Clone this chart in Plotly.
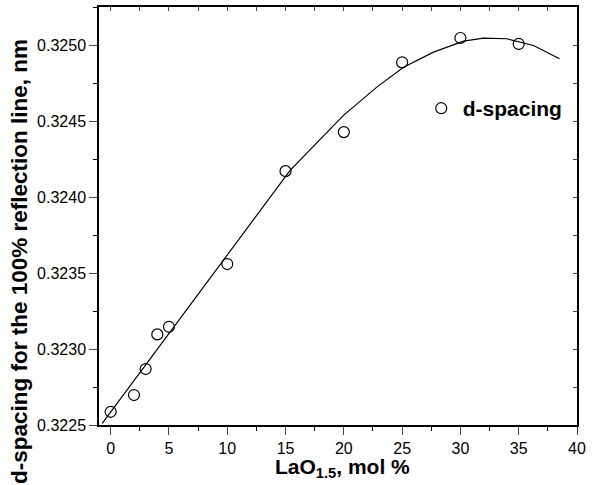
import plotly.graph_objects as go

# measured data points
x_pts = [0, 2, 3, 4, 5, 10, 15, 20, 25, 30, 35]
y_pts = [0.322587, 0.322697, 0.322868, 0.323096, 0.323146, 0.323559,
         0.324170, 0.324427, 0.324886, 0.325046, 0.325007]

# fitted curve (vertices)
x_fit = [-0.72, 9.73, 15.39, 19.97, 22.83, 25.12, 27.69, 30.27, 31.98, 33.99, 36.27, 38.5]
y_fit = [0.322511, 0.323587, 0.324175, 0.324537, 0.324723, 0.324854, 0.324953,
         0.325025, 0.325045, 0.325041, 0.324997, 0.324909]

x_range = [-1, 40]
y_range = [0.3225, 0.32525]
x_ticks = [0, 5, 10, 15, 20, 25, 30, 35, 40]
y_ticks = [0.3225, 0.3230, 0.3235, 0.3240, 0.3245, 0.3250]
y_ticklabels = ["0.3225", "0.3230", "0.3235", "0.3240", "0.3245", "0.3250"]

FONT = "Arial, Liberation Sans, sans-serif"

fig = go.Figure()
fig.add_trace(go.Scatter(x=x_fit, y=y_fit, mode="lines",
                         line=dict(color="black", width=1.2),
                         showlegend=False, hoverinfo="skip"))
fig.add_trace(go.Scatter(x=x_pts, y=y_pts, mode="markers", name="<b>d-spacing</b>",
                         marker=dict(symbol="circle-open", size=11, color="black",
                                     line=dict(width=1.2, color="black"))))
# invisible trace to anchor mirror axes
fig.add_trace(go.Scatter(x=x_pts, y=y_pts, xaxis="x2", yaxis="y2", mode="markers",
                         marker=dict(opacity=0), showlegend=False, hoverinfo="skip"))

fig.update_layout(
    width=598, height=485,
    margin=dict(l=99, r=21, t=7, b=60),
    paper_bgcolor="white", plot_bgcolor="white",
    font=dict(family=FONT, color="black", size=16),
    xaxis=dict(range=x_range, tickvals=x_ticks, ticks="outside", ticklen=8, tickwidth=1.2,
               showline=True, linecolor="black", linewidth=1.5, showgrid=False, zeroline=False,
               tickfont=dict(size=16),
               minor=dict(dtick=2.5, tick0=0, ticks="outside", ticklen=4, tickwidth=1.2,
                          tickcolor="black", showgrid=False)),
    yaxis=dict(range=y_range, tickvals=y_ticks, ticktext=y_ticklabels, ticks="outside",
               ticklen=8, tickwidth=1.2,
               showline=True, linecolor="black", linewidth=1.5, showgrid=False, zeroline=False,
               tickfont=dict(size=16),
               minor=dict(dtick=0.00025, tick0=0.3225, ticks="outside", ticklen=4, tickwidth=1.2,
                          tickcolor="black", showgrid=False)),
    xaxis2=dict(range=x_range, overlaying="x", side="top", anchor="y", dtick=2.5, tick0=0,
                ticks="inside", ticklen=4, tickwidth=1.2, showticklabels=False,
                showline=True, linecolor="black", linewidth=1.5, showgrid=False, zeroline=False),
    yaxis2=dict(range=y_range, overlaying="y", side="right", anchor="x", dtick=0.00025, tick0=0.3225,
                ticks="inside", ticklen=4, tickwidth=1.2, showticklabels=False,
                showline=True, linecolor="black", linewidth=1.5, showgrid=False, zeroline=False),
    legend=dict(x=0.671, y=0.757, xanchor="left", yanchor="middle", itemwidth=33,
                bgcolor="rgba(0,0,0,0)", font=dict(size=21, family=FONT)),
    annotations=[
        dict(text="<b>d-spacing for the 100% reflection line, nm</b>", textangle=-90,
             xref="paper", yref="paper", x=-0.165, y=0.39, xanchor="center", yanchor="middle",
             showarrow=False, font=dict(size=22.5, family=FONT)),
        dict(text="<b>LaO<sub>1.5</sub>, mol %</b>",
             xref="paper", yref="paper", x=0.51, y=-0.104, xanchor="center", yanchor="middle",
             showarrow=False, font=dict(size=21, family=FONT)),
    ],
)

fig.write_html("out.html", config={"displayModeBar": False},
               post_script="document.body.style.margin='0';document.body.style.padding='0';")
